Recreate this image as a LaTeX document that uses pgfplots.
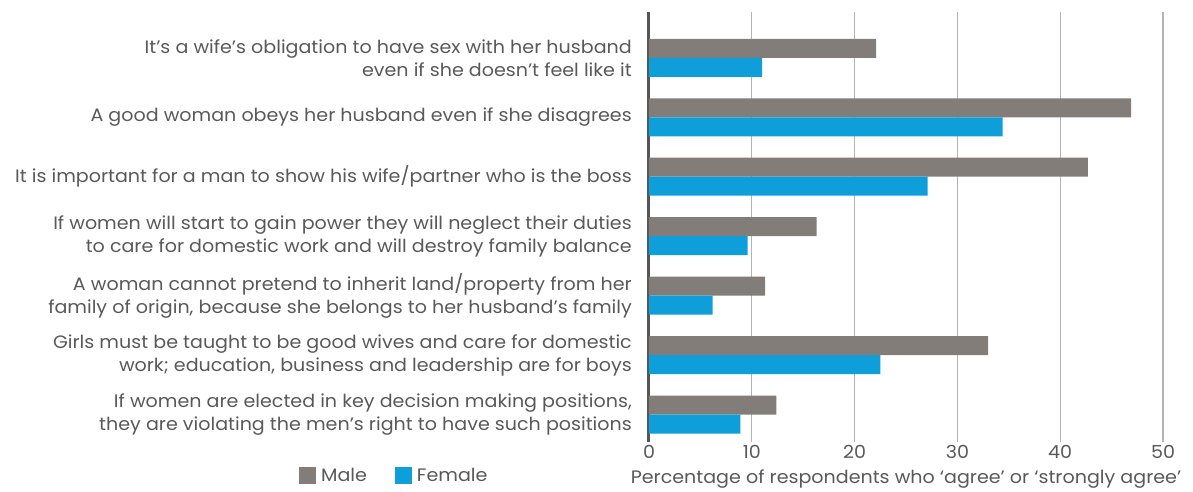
\documentclass[border=0pt]{standalone}
\usepackage{fontspec}
\setmainfont{Poppins}[FakeStretch=1.06]
\usepackage{pgfplots}
\usepackage{pgfplotstable}
\pgfplotsset{compat=1.18}
\definecolor{male}{HTML}{827D78}
\definecolor{female}{HTML}{0E9FDA}
\definecolor{txt}{HTML}{595959}
\definecolor{gridc}{HTML}{B4B4B4}
\definecolor{axc}{HTML}{555555}
\pgfplotstableread{
y male female
6 22.1 11.0
5 46.9 34.4
4 42.7 27.1
3 16.3 9.6
2 11.3 6.2
1 33.0 22.5
0 12.4 8.9
}\data
\begin{document}
\begin{tikzpicture}
\begin{axis}[
  scale only axis,
  width=514pt, height=430pt,
  xbar, bar width=19pt,
  xmin=0, xmax=50,
  ymin=-0.46, ymax=6.77,
  xtick={0,10,...,50},
  ytick={0,...,6},
  yticklabels={
    {If women are elected in key decision making positions,\\they are violating the men’s right to have such positions},
    {Girls must be taught to be good wives and care for domestic\\work; education, business and leadership are for boys},
    {A woman cannot pretend to inherit land/property from her\\family of origin, because she belongs to her husband’s family},
    {If women will start to gain power they will neglect their duties\\to care for domestic work and will destroy family balance},
    {It is important for a man to show his wife/partner who is the boss},
    {A good woman obeys her husband even if she disagrees},
    {It’s a wife’s obligation to have sex with her husband\\even if she doesn’t feel like it}},
  yticklabel style={align=right, font=\fontsize{18}{23}\selectfont, text=txt, inner xsep=0pt, xshift=-17pt},
  xticklabel style={font=\fontsize{18}{20}\selectfont, text=txt},
  /pgf/number format/assume math mode=true,
  major tick length=0pt,
  xmajorgrids,
  grid style={gridc, line width=1.2pt},
  axis x line*=bottom,
  axis y line*=left,
  x axis line style={draw=none},
  y axis line style={axc, line width=3pt},
  xlabel={Percentage of respondents who ‘agree’ or ‘strongly agree’},
  xlabel style={font=\fontsize{18}{20}\selectfont, text=txt, yshift=-4pt},
  legend style={draw=none, at={(rel axis cs:-0.687,-0.079)}, anchor=west, legend columns=2,
    font=\fontsize{18}{20}\selectfont, text=txt, /tikz/every even column/.append style={column sep=23pt},
    nodes={inner xsep=5pt}},
  legend image code/.code={\fill[#1] (0pt,-8.5pt) rectangle (17pt,8.5pt);},
]
\addplot[fill=male, draw=none, bar shift=9.5pt] table[x=male, y=y] {\data};
\addplot[fill=female, draw=none, bar shift=-9.5pt] table[x=female, y=y] {\data};
\legend{Male, Female}
\end{axis}
\path[use as bounding box] ([shift={(-649pt,-45pt)}]current axis.south west) rectangle ([shift={(30pt,12pt)}]current axis.north east);
\end{tikzpicture}
\end{document}
